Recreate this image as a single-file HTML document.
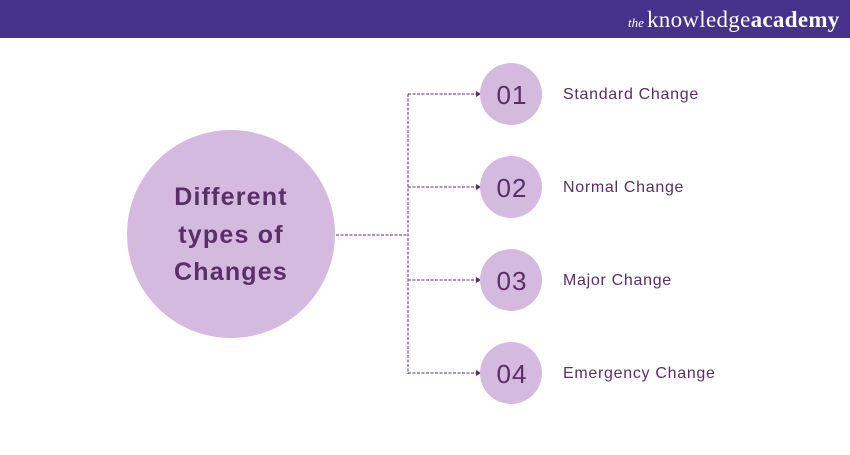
<!DOCTYPE html>
<html><head><style>
body{margin:0;width:850px;height:450px;background:#fff;overflow:hidden;font-family:"Liberation Sans",sans-serif}
</style></head><body>
<svg width="850" height="450" xmlns="http://www.w3.org/2000/svg">
<rect x="0" y="0" width="850" height="38" fill="#46318b"/>
<text x="628" y="27" font-family="Liberation Serif" font-style="italic" font-size="13" fill="#fff">the</text>
<text x="647" y="27" font-family="Liberation Serif" font-size="23" fill="#fff" letter-spacing="0.3">knowledge<tspan font-weight="bold">academy</tspan></text>
<circle cx="231" cy="234" r="104" fill="#d4bade"/>
<g font-weight="bold" font-size="25" fill="#5a2e66" text-anchor="middle" letter-spacing="1.2">
<text x="231" y="205">Different</text>
<text x="231" y="243">types of</text>
<text x="231" y="280">Changes</text>
</g>
<g stroke="#5a2e66" stroke-width="1" stroke-dasharray="3,1.5" fill="none">
<line x1="336" y1="235" x2="408" y2="235"/>
<line x1="408" y1="94" x2="408" y2="374"/>
<line x1="408" y1="94" x2="477" y2="94"/>
<line x1="408" y1="187" x2="477" y2="187"/>
<line x1="408" y1="280" x2="477" y2="280"/>
<line x1="408" y1="373" x2="477" y2="373"/>
</g>
<g fill="#5a2e66">
<path d="M476,91 L481,94 L476,97Z"/><path d="M476,184 L481,187 L476,190Z"/>
<path d="M476,277 L481,280 L476,283Z"/><path d="M476,370 L481,373 L476,376Z"/>
</g>
<g fill="#d4bade">
<circle cx="511" cy="94" r="31"/><circle cx="511" cy="187" r="31"/>
<circle cx="511" cy="280" r="31"/><circle cx="511" cy="373" r="31"/>
</g>
<g font-size="26" fill="#5a2e66" text-anchor="middle" letter-spacing="1">
<text x="512" y="104">01</text><text x="512" y="197">02</text>
<text x="512" y="290">03</text><text x="512" y="383">04</text>
</g>
<g font-size="16" fill="#5a2e66" letter-spacing="0.7">
<text x="563" y="99">Standard Change</text>
<text x="563" y="192">Normal Change</text>
<text x="563" y="285">Major Change</text>
<text x="563" y="378">Emergency Change</text>
</g>
</svg>
</body></html>
